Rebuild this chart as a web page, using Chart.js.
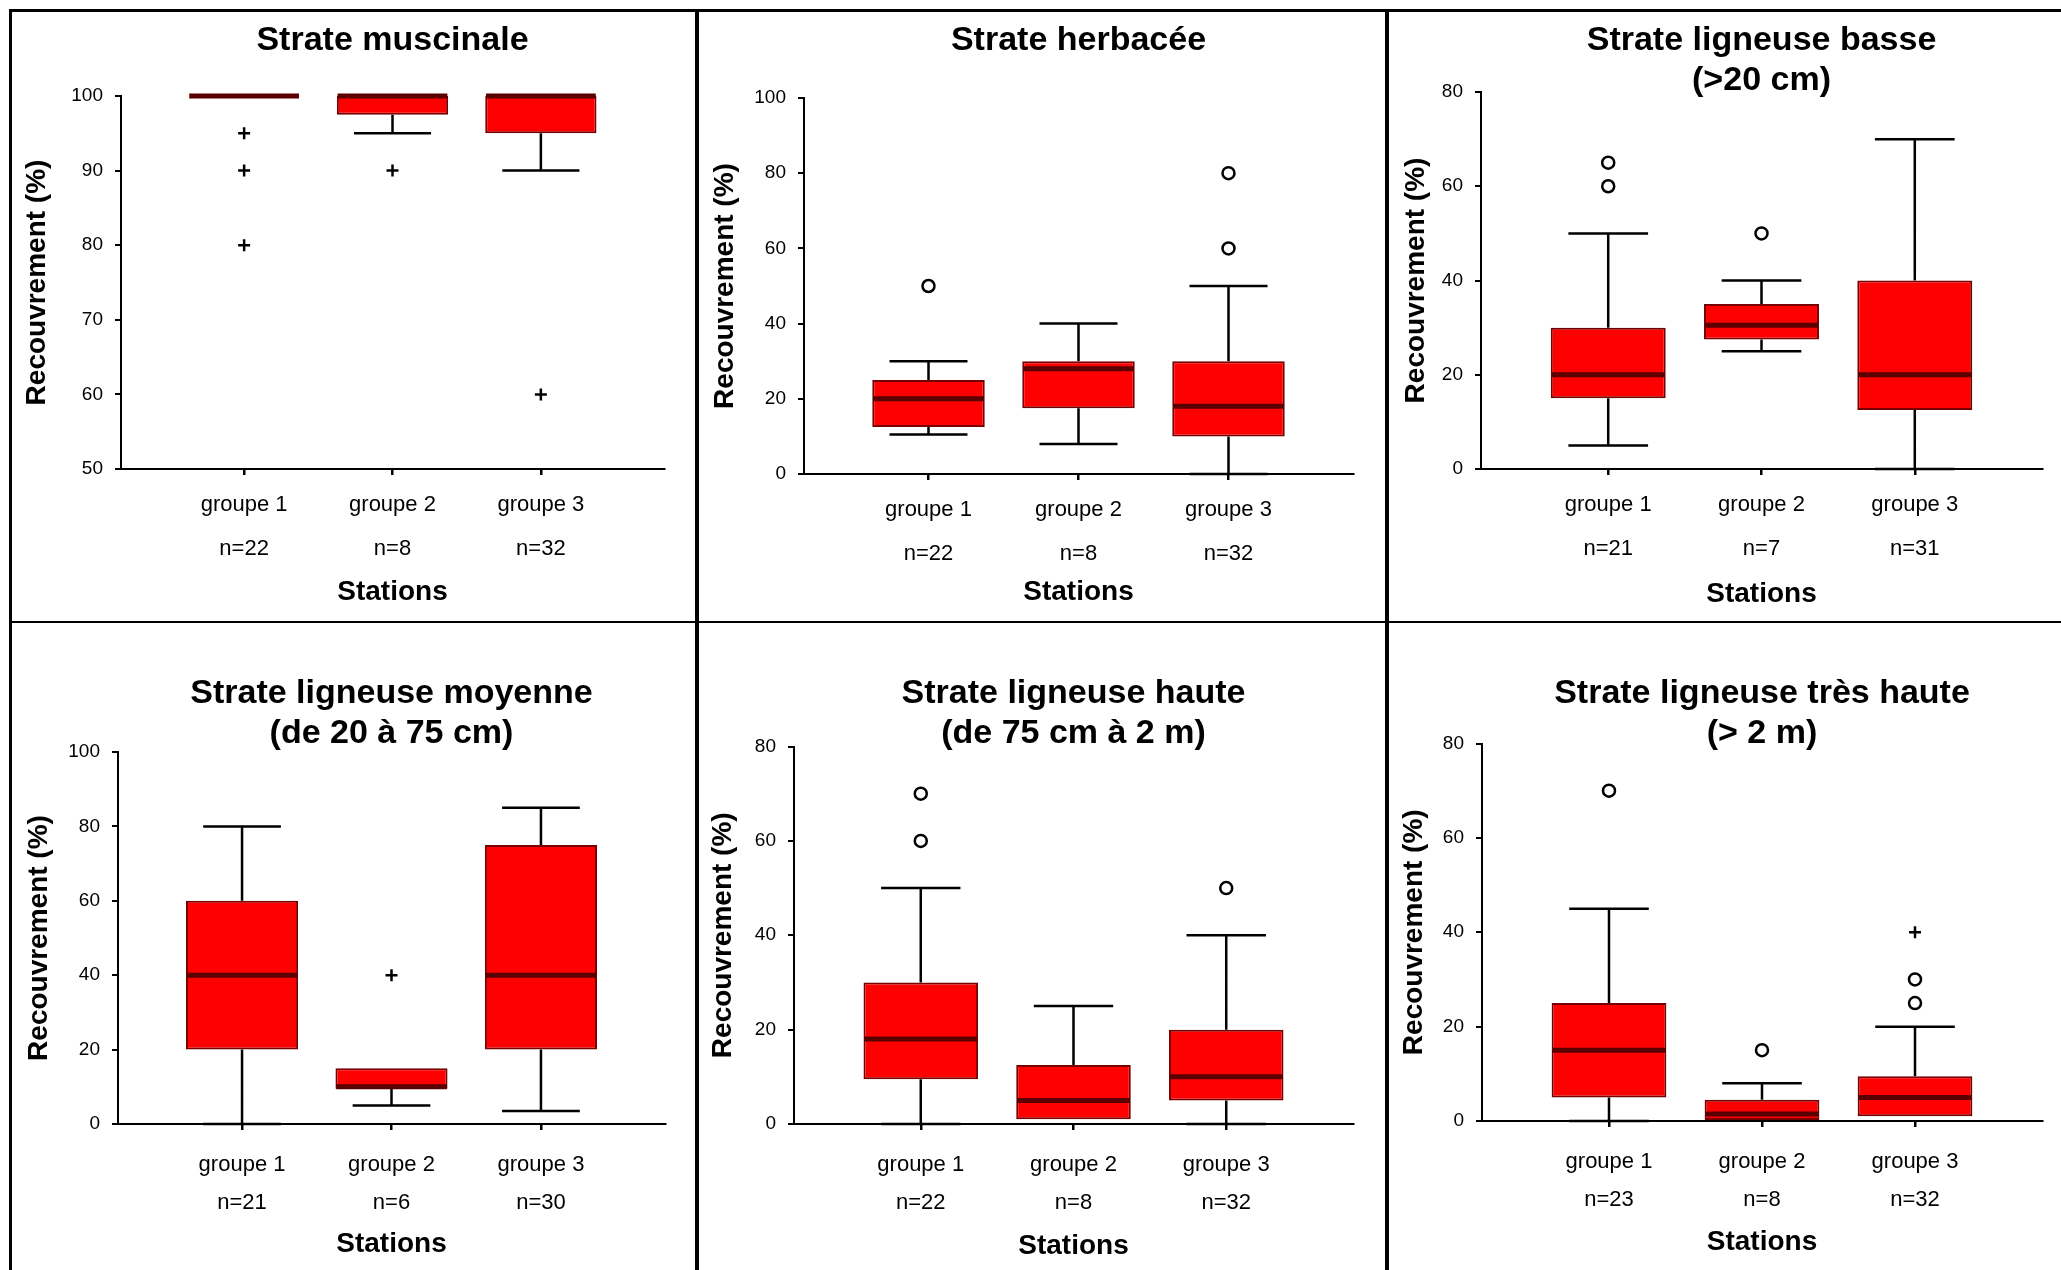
<!DOCTYPE html>
<html>
<head>
<meta charset="utf-8">
<script src="https://cdn.jsdelivr.net/npm/chart.js@4.4.1/dist/chart.umd.min.js"></script>
<style>
html, body { margin: 0; padding: 0; background: #fff; }
body { width: 2061px; height: 1270px; position: relative; overflow: hidden; }
canvas { position: absolute; }
.trait { position: absolute; background: #000; }
</style>
</head>
<body>
<div class="trait" style="left:9px;top:9px;width:2052px;height:3px"></div>
<div class="trait" style="left:9px;top:9px;width:3px;height:1261px"></div>
<div class="trait" style="left:695px;top:9px;width:4px;height:1261px"></div>
<div class="trait" style="left:1385px;top:9px;width:4px;height:1261px"></div>
<div class="trait" style="left:9px;top:621px;width:2052px;height:2px"></div>
<script>
const groupes = ['groupe 1', 'groupe 2', 'groupe 3'];
const titres = [
  'Strate muscinale',
  'Strate herbacée',
  ['Strate ligneuse basse', '(>20 cm)'],
  ['Strate ligneuse moyenne', '(de 20 à 75 cm)'],
  ['Strate ligneuse haute', '(de 75 cm à 2 m)'],
  ['Strate ligneuse très haute', '(> 2 m)']
];
const effectifs = [[22, 8, 32], [22, 8, 32], [21, 7, 31], [21, 6, 30], [22, 8, 32], [23, 8, 32]];
const minimum   = [[100, 95, 90], [10.5, 8, 0], [5, 25, 0], [0, 5, 3.5], [0, 1, 0], [0, 0, 1]];
const quartile1 = [[100, 97.5, 95], [12.5, 17.5, 10], [15, 27.5, 12.5], [20, 9.5, 20], [9.5, 1, 5], [5, 0, 1]];
const mediane   = [[100, 100, 100], [20, 28, 18], [20, 30.5, 20], [40, 10, 40], [18, 5, 10], [15, 1.5, 5]];
const quartile3 = [[100, 100, 100], [25, 30, 30], [30, 35, 40], [60, 15, 75], [30, 12.5, 20], [25, 4.5, 9.5]];
const maximum   = [[100, 100, 100], [30, 40, 50], [50, 40, 70], [80, 15, 85], [50, 25, 40], [45, 8, 20]];
const atypiques = [[[], [], []], [[50], [], [60, 80]], [[60, 65], [50], []], [[], [], []], [[60, 70], [], [50]], [[70], [15], [25, 30]]];
const extremes  = [[[95, 90, 80], [90], [60]], [[], [], []], [[], [], []], [[], [40], []], [[], [], []], [[], [], [40]]];
const axeMin = [50, 0, 0, 0, 0, 0];
const axeMax = [100, 100, 80, 100, 80, 80];
const axePas = [10, 20, 20, 20, 20, 20];

// placement de chaque cadre dans la page (px)
const cadres = [
  {x: 12, y: 12, w: 682, h: 609, gauche: 121, droite: 664, haut: 96, bas: 469, titreY: 41, stationsY: 592, axeTitreX: 37, ligne: 44, ecart: 36},
  {x: 700, y: 12, w: 685, h: 609, gauche: 804, droite: 1353, haut: 98, bas: 474, titreY: 41, stationsY: 592, axeTitreX: 725, ligne: 44, ecart: 36},
  {x: 1389, y: 12, w: 672, h: 609, gauche: 1481, droite: 2042, haut: 92, bas: 469, titreY: 41, stationsY: 594, axeTitreX: 1416, ligne: 44, ecart: 36},
  {x: 12, y: 624, w: 682, h: 646, gauche: 118, droite: 665, haut: 752, bas: 1124, titreY: 694, stationsY: 1244, axeTitreX: 39, ligne: 38, ecart: 41},
  {x: 700, y: 624, w: 685, h: 646, gauche: 794, droite: 1353, haut: 746.5, bas: 1124, titreY: 693.5, stationsY: 1246, axeTitreX: 723.5, ligne: 38, ecart: 41},
  {x: 1389, y: 624, w: 672, h: 646, gauche: 1482, droite: 2042, haut: 743.5, bas: 1121, titreY: 693.5, stationsY: 1242, axeTitreX: 1414, ligne: 38, ecart: 41}
];

Chart.defaults.font.family = '"Liberation Sans", Arial, Helvetica, sans-serif';
Chart.defaults.color = '#000';
Chart.defaults.animation = false;

const demiBoite = 0.37;
const demiMoustache = 0.26;
const tailleTicks = 22;

function moustaches(p) {
  let pts = [];
  groupes.forEach((g, i) => {
    let x = i + 1;
    if (maximum[p][i] > quartile3[p][i]) {
      pts.push({x: x, y: quartile3[p][i]}, {x: x, y: maximum[p][i]}, {x: x, y: null});
      pts.push({x: x - demiMoustache, y: maximum[p][i]}, {x: x + demiMoustache, y: maximum[p][i]}, {x: x, y: null});
    }
    if (minimum[p][i] < quartile1[p][i]) {
      pts.push({x: x, y: quartile1[p][i]}, {x: x, y: minimum[p][i]}, {x: x, y: null});
      pts.push({x: x - demiMoustache, y: minimum[p][i]}, {x: x + demiMoustache, y: minimum[p][i]}, {x: x, y: null});
    }
  })
  return pts;
}

function medianes(p) {
  let pts = [];
  groupes.forEach((g, i) => {
    let x = i + 1;
    pts.push({x: x - demiBoite, y: mediane[p][i]}, {x: x + demiBoite, y: mediane[p][i]}, {x: x, y: null});
  })
  return pts;
}

function points(liste) {
  let pts = [];
  liste.forEach((vals, i) => vals.forEach(v => pts.push({x: i + 1, y: v})));
  return pts;
}

cadres.forEach((c, p) => {
  let canvas = document.createElement('canvas');
  canvas.width = c.w;
  canvas.height = c.h;
  canvas.style.left = c.x + 'px';
  canvas.style.top = c.y + 'px';
  document.body.appendChild(canvas);

  let nbLignes = Array.isArray(titres[p]) ? titres[p].length : 1;
  let hLigne = 40;
  let titreHaut = c.titreY - c.y - hLigne / 2;
  let titreBas = (c.haut - c.y) - titreHaut - hLigne * nbLignes;
  let largeurY = c.gauche - c.x;
  let hauteurX = c.stationsY - c.bas + 16.8;
  let margeBas = c.h - (c.bas - c.y) - hauteurX;
  let margeDroite = c.x + c.w - c.droite;
  let padTicksX = c.ecart - 6 - c.ligne / 2;

  new Chart(canvas.getContext('2d'), {
    type: 'bar',
    data: {
      datasets: [
        {
          type: 'line', data: moustaches(p), borderColor: '#000', borderWidth: 2.5,
          pointRadius: 0, fill: false, spanGaps: false, order: 4, clip: false
        },
        {
          type: 'bar',
          data: groupes.map((g, i) => ({x: i + 1, y: [quartile1[p][i], quartile3[p][i]]})),
          backgroundColor: '#ff0000', borderColor: '#780000', borderWidth: 2,
          borderSkipped: false, barPercentage: 0.75, categoryPercentage: 1, order: 3
        },
        {
          type: 'line', data: medianes(p), borderColor: '#5a0000', borderWidth: 5,
          pointRadius: 0, fill: false, spanGaps: false, order: 2, clip: false
        },
        {
          type: 'scatter', data: points(atypiques[p]), pointStyle: 'circle', pointRadius: 6,
          pointBorderWidth: 2.5, pointBorderColor: '#000', pointBackgroundColor: '#fff', order: 1, clip: false
        },
        {
          type: 'scatter', data: points(extremes[p]), pointStyle: 'cross', pointRadius: 6,
          pointBorderWidth: 2.5, pointBorderColor: '#000', order: 1, clip: false
        }
      ]
    },
    options: {
      responsive: false,
      devicePixelRatio: 1,
      layout: {padding: {top: 0, left: 0, right: margeDroite, bottom: margeBas}},
      plugins: {
        legend: {display: false},
        tooltip: {enabled: false},
        title: {
          display: true, text: titres[p], fullSize: false, color: '#000',
          font: {size: 34, weight: 'bold', lineHeight: hLigne / 34},
          padding: {top: titreHaut, bottom: titreBas}
        }
      },
      scales: {
        x: {
          type: 'linear', min: 0.17, max: 3.83, offset: false,
          afterBuildTicks: (s) => { s.ticks = groupes.map((g, i) => ({value: i + 1})); },
          afterFit: (s) => { s.height = hauteurX; },
          ticks: {
            autoSkip: false, maxRotation: 0, padding: padTicksX, color: '#000',
            font: {size: tailleTicks, lineHeight: c.ligne / tailleTicks},
            callback: (v) => [groupes[v - 1], 'n=' + effectifs[p][v - 1]]
          },
          grid: {offset: false, drawOnChartArea: false, tickLength: 6, color: '#000', lineWidth: 2.5},
          border: {display: true, color: '#000', width: 2},
          title: {
            display: true, text: 'Stations', color: '#000',
            font: {size: 28, weight: 'bold', lineHeight: 1.2}, padding: {top: 0, bottom: 0}
          }
        },
        y: {
          min: axeMin[p], max: axeMax[p],
          afterFit: (s) => { s.width = largeurY; },
          ticks: {stepSize: axePas[p], padding: 12, color: '#000', font: {size: 19}},
          grid: {drawOnChartArea: false, tickLength: 6, color: '#000', lineWidth: 2},
          border: {display: true, color: '#000', width: 2},
          title: {
            display: true, text: 'Recouvrement (%)', color: '#000',
            font: {size: 28, weight: 'bold', lineHeight: 1.2},
            padding: {top: c.axeTitreX - c.x - 16.8, bottom: 0}
          }
        }
      }
    }
  });
});
</script>
</body>
</html>
